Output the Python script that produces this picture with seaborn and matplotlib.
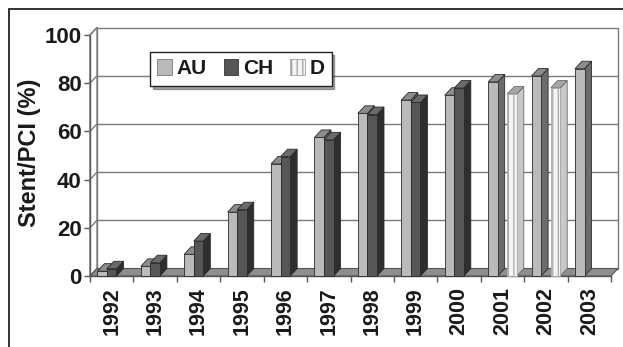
import numpy as np
import pandas as pd
import seaborn as sns
import matplotlib
matplotlib.use("Agg")
import matplotlib.pyplot as plt
from matplotlib.patches import Polygon, Rectangle, Patch
from matplotlib.lines import Line2D

# Share of PCI procedures with stent implantation, by country and year
years = [str(y) for y in range(1992, 2004)]
series = ["AU", "CH", "D"]
au = [2, 4, 9, 26.5, 46.5, 57.5, 67.5, 73, 75, 80.5, 83, 86]
ch = [3, 5.5, 14.5, 27.5, 49.5, 56.5, 67, 72, 78, None, None, None]
d = [None] * 9 + [75.5, 78, None]
yticks = [0, 20, 40, 60, 80, 100]

rows = []
for name, vals in zip(series, [au, ch, d]):
    for yr, v in zip(years, vals):
        if v is not None:
            rows.append({"year": yr, "country": name, "pct": v})
df = pd.DataFrame(rows)

front = {"AU": "#bababa", "CH": "#565656", "D": "#f4f4f4"}
side = {"AU": "#6c6c6c", "CH": "#2e2e2e", "D": "#c8c8c8"}
top = {"AU": "#8c8c8c", "CH": "#6a6a6a", "D": "#a6a6a6"}

sns.set_theme(style="white")
plt.rcParams["font.family"] = ["Liberation Sans", "DejaVu Sans"]
plt.rcParams["font.weight"] = "bold"
plt.rcParams["hatch.linewidth"] = 0.9

W, H = 623, 347
fig = plt.figure(figsize=(W / 100, H / 100), dpi=100)
fig.patch.set_facecolor("white")
x_left, x_right, y_zero, y_top = 90, 611, 276, 35
ax = fig.add_axes([x_left / W, (H - y_zero) / H, (x_right - x_left) / W, (y_zero - y_top) / H])

sns.barplot(data=df, x="year", y="pct", hue="country", order=years, hue_order=series,
            palette=front, width=0.66, saturation=1, edgecolor="#2a2a2a", linewidth=0.6,
            errorbar=None, legend=False, ax=ax)
bars = [p for p in ax.patches if isinstance(p, Rectangle)]

ax.set_xlim(-0.5, 11.5)
ax.set_ylim(0, 100)
ax.patch.set_visible(False)
for s in ax.spines.values():
    s.set_visible(False)

# depth offset of the 3D look, converted from pixels to data units
px_x = (x_right - x_left) / 12.0
px_y = (y_zero - y_top) / 100.0
DX = 7 / px_x
DY = 7.5 / px_y
x0a, x1a = -0.5, 11.5
grey_line = "#7a7a7a"

# back wall, side wall and floor
ax.add_patch(Rectangle((x0a + DX, DY), x1a - x0a, 100, facecolor="white",
                       edgecolor=grey_line, lw=1.0, zorder=0.5, clip_on=False))
ax.add_patch(Polygon([(x0a, 0), (x0a, 100), (x0a + DX, 100 + DY), (x0a + DX, DY)],
                     closed=True, facecolor="white", edgecolor=grey_line, lw=1.0,
                     zorder=0.6, clip_on=False))
for v in yticks:
    if 0 < v < 100:
        ax.add_line(Line2D([x0a + DX, x1a + DX], [v + DY, v + DY], color=grey_line,
                           lw=1.0, zorder=0.8, clip_on=False))
    ax.add_line(Line2D([x0a, x0a + DX], [v, v + DY], color=grey_line, lw=1.0,
                       zorder=0.8, clip_on=False))
ax.add_patch(Polygon([(x0a, 0), (x1a, 0), (x1a + DX, DY), (x0a + DX, DY)], closed=True,
                     facecolor="#8e8e8e", edgecolor="#555555", lw=0.8, zorder=1.0,
                     clip_on=False))

# top and side faces for each column
col_of = {n: np.array(matplotlib.colors.to_rgb(front[n])) for n in series}
for p in bars:
    h = p.get_height()
    if h is None or np.isnan(h) or h <= 0:
        continue
    fc = np.array(p.get_facecolor()[:3])
    name = min(series, key=lambda n: np.abs(col_of[n] - fc).sum())
    x0, w = p.get_x(), p.get_width()
    z = 2 + (x0 + 1) * 0.05
    p.set_zorder(z + 0.002)
    p.set_clip_on(False)
    edge = "#2a2a2a"
    if name == "D":
        p.set_hatch("|||")
        p.set_edgecolor("#a8a8a8")
        edge = "#6a6a6a"
    ax.add_patch(Polygon([(x0 + w, 0), (x0 + w, h), (x0 + w + DX, h + DY), (x0 + w + DX, DY)],
                         closed=True, facecolor=side[name], edgecolor=edge, lw=0.6,
                         zorder=z, clip_on=False))
    ax.add_patch(Polygon([(x0, h), (x0 + w, h), (x0 + w + DX, h + DY), (x0 + DX, h + DY)],
                         closed=True, facecolor=top[name], edgecolor=edge, lw=0.6,
                         zorder=z + 0.001, clip_on=False))

# axis lines at the front edge
ax.add_line(Line2D([x0a, x0a], [0, 100], color="#555555", lw=1.0, zorder=1.2, clip_on=False))
ax.add_line(Line2D([x0a, x1a], [0, 0], color="#555555", lw=1.0, zorder=1.2, clip_on=False))

ax.set_yticks(yticks)
ax.set_yticklabels([str(v) for v in yticks])
ax.set_xticks(range(len(years)))
ax.set_xticklabels(years, rotation=90)
ax.set_xticks(np.arange(-0.5, 12, 1.0), minor=True)
ax.tick_params(axis="y", length=4, width=1, color="#555555", pad=2, labelsize=16,
               labelcolor="#1a1a1a", left=True)
ax.tick_params(axis="x", which="major", length=0, pad=8, labelsize=15.5, labelcolor="#1a1a1a")
ax.tick_params(axis="x", which="minor", length=4, width=1, color="#555555", bottom=True)
for lab in ax.get_xticklabels() + ax.get_yticklabels():
    lab.set_fontweight("bold")
ax.set_xlabel("")
ax.set_ylabel("")

fig.text(30 / W, 1 - 153 / H, "Stent/PCI (%)", rotation=90, ha="center", va="center",
         fontsize=17, fontweight="bold", color="#1a1a1a")

handles = [Patch(facecolor=front["AU"], edgecolor="#777777", lw=0.6),
           Patch(facecolor=front["CH"], edgecolor="#333333", lw=0.6),
           Patch(facecolor=front["D"], edgecolor="#a0a0a0", lw=0.6, hatch="|||")]
leg = fig.legend(handles, series, loc="upper left", bbox_to_anchor=(150 / W, 1 - 52 / H),
                 ncol=3, frameon=True, fancybox=False, shadow=True, edgecolor="#222222",
                 prop={"size": 15, "weight": "bold"}, handlelength=0.7, handleheight=0.8,
                 handletextpad=0.2, columnspacing=0.85, borderpad=0.35, borderaxespad=0)
leg.get_frame().set_linewidth(1.0)
for t in leg.get_texts():
    t.set_color("#1a1a1a")

# outer frame lines
fig.add_artist(Line2D([9 / W, 9 / W], [0, 1 - 9 / H], transform=fig.transFigure,
                      color="#222222", lw=1.3))
fig.add_artist(Line2D([9 / W, 1], [1 - 9 / H, 1 - 9 / H], transform=fig.transFigure,
                      color="#222222", lw=1.3))

fig.savefig("out.png", dpi=100, facecolor="white")
